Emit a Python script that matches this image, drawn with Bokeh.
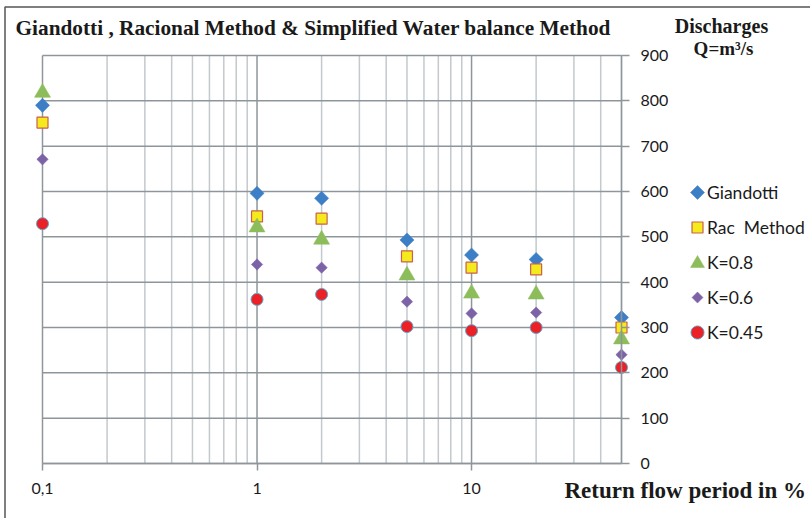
import numpy as np
from bokeh.plotting import figure
from bokeh.models import (Range1d, FixedTicker, Label, Legend, LegendItem,
                          PolyAnnotation, BoxAnnotation, ColumnDataSource)
from bokeh.embed import file_html
from bokeh.resources import INLINE

# ---- data ----
periods = [0.1, 1, 2, 5, 10, 20, 50]
giandotti = [790, 596, 585, 493, 460, 450, 322]
rac_method = [752, 545, 540, 457, 432, 428, 300]
k08 = [818, 521, 494, 415, 375, 373, 274]
k06 = [671, 439, 432, 357, 331, 333, 240]
k045 = [529, 362, 373, 302, 293, 300, 212]

x_ticks = [0.1, 1, 10]
x_minor = [0.2, 0.3, 0.4, 0.5, 0.6, 0.7, 0.8, 0.9, 2, 3, 4, 5, 6, 7, 8, 9, 20, 30, 40, 50]
x_tick_labels = {0.1: "0,1", 1: "1", 10: "10"}
y_ticks = [0, 100, 200, 300, 400, 500, 600, 700, 800, 900]
x_lo, x_hi = 0.1, 50
y_lo, y_hi = 0, 900

title_text = "Giandotti , Racional Method & Simplified Water balance Method"
y_title_1 = "Discharges"
y_title_2 = "Q=m\u00b3/s"
x_title = "Return flow period in %"
legend_labels = ["Giandotti", "Rac  Method", "K=0.8", "K=0.6", "K=0.45"]

BLUE = "#3C7FC6"
YELLOW = "#F4EA1C"
SQ_LINE = "#C8604F"
GREEN = "#8DBD5A"
PURPLE = "#7C62A7"
RED = "#EC2127"
RED_LINE = "#5BA7C9"
GRID_MAJ = "#8E969B"
GRID_MIN = "#C3C9CD"
TXT = "#1A1A1A"

# ---- layout (pixels) ----
W, H = 810, 518
PL, PR, PT, PB = 42, 621, 55, 463     # plot area edges on the canvas

# the frame covers the whole canvas; map plot-area edges to the data limits
lx0, lx1 = np.log10(x_lo), np.log10(x_hi)
dpx = (lx1 - lx0) / (PR - PL)
xr = Range1d(10 ** (lx0 - PL * dpx), 10 ** (lx1 + (W - PR) * dpx))
dpy = (y_hi - y_lo) / (PB - PT)
yr = Range1d(y_lo - (H - PB) * dpy, y_hi + PT * dpy)

p = figure(width=W, height=H, x_axis_type="log", y_axis_location="right",
           x_range=xr, y_range=yr, output_backend="svg", toolbar_location=None,
           min_border=0, min_border_left=0, min_border_right=0,
           min_border_top=0, min_border_bottom=0)
p.title = None
p.outline_line_color = None
p.background_fill_color = "white"
p.border_fill_color = "white"
p.xgrid.visible = False
p.ygrid.visible = False

# grid lines restricted to the plot area
minor_in = [v for v in x_minor if v not in x_ticks]
p.segment(x0=minor_in, x1=minor_in, y0=[y_lo] * len(minor_in), y1=[y_hi] * len(minor_in),
          line_color=GRID_MIN, line_width=1.5)
p.segment(x0=x_ticks, x1=x_ticks, y0=[y_lo] * len(x_ticks), y1=[y_hi] * len(x_ticks),
          line_color=GRID_MAJ, line_width=1.5)
p.segment(x0=[x_lo] * len(y_ticks), x1=[x_hi] * len(y_ticks), y0=y_ticks, y1=y_ticks,
          line_color=GRID_MAJ, line_width=1.5)

# axes (placed inside the frame at the plot-area edges)
xa = p.xaxis[0]
xa.fixed_location = y_lo
xa.bounds = (x_lo, x_hi)
xa.ticker = FixedTicker(ticks=x_ticks, minor_ticks=x_minor)
xa.major_label_overrides = x_tick_labels
xa.axis_line_color = GRID_MAJ
xa.axis_line_width = 1.5
xa.major_tick_line_color = GRID_MAJ
xa.major_tick_line_width = 1.5
xa.major_tick_out = 7
xa.major_tick_in = 0
xa.minor_tick_line_color = None
xa.major_label_standoff = 12
xa.major_label_text_font = "Lato"
xa.major_label_text_font_size = "16px"
xa.major_label_text_color = TXT

ya = p.yaxis[0]
ya.fixed_location = x_hi
ya.bounds = (y_lo, y_hi)
ya.ticker = FixedTicker(ticks=y_ticks)
ya.axis_line_color = GRID_MAJ
ya.axis_line_width = 1.5
ya.major_tick_line_color = GRID_MAJ
ya.major_tick_line_width = 1.5
ya.major_tick_out = 8
ya.major_tick_in = 0
ya.minor_tick_line_color = None
ya.major_label_standoff = 11
ya.major_label_text_font = "Lato"
ya.major_label_text_font_size = "16px"
ya.major_label_text_color = TXT

src = ColumnDataSource(dict(x=periods, g=giandotti, r=rac_method, k8=k08, k6=k06, k45=k045))

r_g = p.scatter("x", "g", source=src, marker="square", angle=np.pi / 4, size=10,
                fill_color=BLUE, line_color=BLUE, line_width=0.5)
r_r = p.scatter("x", "r", source=src, marker="square", size=11,
                fill_color=YELLOW, line_color=SQ_LINE, line_width=1.2)
r_k8 = p.scatter("x", "k8", source=src, marker="triangle", size=16,
                 fill_color=GREEN, line_color=GREEN, line_width=0.5)
r_k6 = p.scatter("x", "k6", source=src, marker="square", angle=np.pi / 4, size=8,
                 fill_color=PURPLE, line_color=PURPLE, line_width=0.5)
r_k45 = p.scatter("x", "k45", source=src, marker="circle", size=12,
                  fill_color=RED, line_color=RED_LINE, line_width=1)

# legend: invisible stand-in glyphs, full-size keys drawn as polygons
empty = ColumnDataSource(dict(x=[], y=[]))
stand_ins = [p.scatter("x", "y", source=empty, marker="circle", fill_alpha=0, line_alpha=0)
             for _ in legend_labels]
GW, GH = 10, 35
KEY_X, KEY_Y0 = 697, 192              # first legend key centre on the canvas
leg_bottom_page = KEY_Y0 - GH / 2 + GH * len(stand_ins)
legend = Legend(items=[LegendItem(label=l, renderers=[r]) for l, r in zip(legend_labels, stand_ins)],
                location=(KEY_X - GW / 2, H - leg_bottom_page), padding=0, margin=0, spacing=0,
                glyph_width=GW, glyph_height=GH, label_height=GH, label_standoff=5,
                border_line_color=None, background_fill_color=None,
                label_text_font="Lato", label_text_font_size="17.5px", label_text_color=TXT)
p.add_layout(legend, "center")

def key_poly(i, xs, ys, fill, line, lw=1):
    cy = H - (KEY_Y0 + GH * i)
    p.add_layout(PolyAnnotation(xs=[KEY_X + v for v in xs], ys=[cy + v for v in ys],
                                xs_units="screen", ys_units="screen",
                                fill_color=fill, fill_alpha=1, line_color=line,
                                line_alpha=1, line_width=lw))

t = np.linspace(0, 2 * np.pi, 36, endpoint=False)
key_poly(0, [0, 7, 0, -7], [7, 0, -7, 0], BLUE, BLUE, 0.5)
key_poly(1, [-5.5, 5.5, 5.5, -5.5], [5.5, 5.5, -5.5, -5.5], YELLOW, SQ_LINE, 1.2)
key_poly(2, [-7, 7, 0], [-5, -5, 7], GREEN, GREEN, 0.5)
key_poly(3, [0, 5.5, 0, -5.5], [5.5, 0, -5.5, 0], PURPLE, PURPLE, 0.5)
key_poly(4, list(6.5 * np.cos(t)), list(6.5 * np.sin(t)), RED, RED_LINE, 1)

# texts
serif = "Liberation Serif"
def add_text(x, y, text, size, align):
    p.add_layout(Label(x=x, y=H - y, x_units="screen", y_units="screen", text=text,
                       text_font=serif, text_font_style="bold", text_font_size=size,
                       text_baseline="middle", text_align=align, text_color=TXT))

add_text(15, 27, title_text, "21.3px", "left")
add_text(721, 25, y_title_1, "20px", "center")
add_text(723, 48, y_title_2, "19px", "center")
add_text(564, 490, x_title, "23px", "left")

# outer chart border (left & top edges visible)
p.add_layout(BoxAnnotation(left=4.5, right=W + 50, top=H - 6.5, bottom=-50,
                           left_units="screen", right_units="screen",
                           top_units="screen", bottom_units="screen",
                           fill_alpha=0, line_color="#555555", line_width=1.5, line_alpha=1))

open("out.html", "w").write(file_html(p, INLINE))
